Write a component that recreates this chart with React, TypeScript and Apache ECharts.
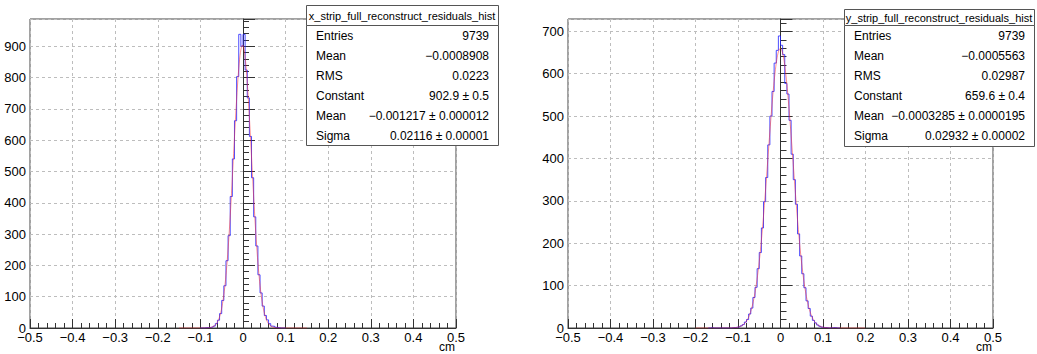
import React, { useEffect, useRef } from 'react';
import * as echarts from 'echarts';

const FONT = '"Liberation Sans", Arial, Helvetica, sans-serif';
const BIN_WIDTH = 0.005;

// left histogram (x residuals), bins from -0.1 in steps of 0.005
const LEFT_BIN_START = -0.1;
const LEFT_COUNTS = [
  0, 0, 1, 1, 2, 3, 6, 14, 25, 46,
  88, 135, 215, 295, 420, 540, 662, 803, 938, 900,
  938, 824, 735, 612, 480, 355, 262, 170, 112, 70,
  40, 26, 14, 6, 5, 2, 1, 0, 0, 0,
];
// right histogram (y residuals), bins from -0.17 in steps of 0.005
const RIGHT_BIN_START = -0.17;
const RIGHT_COUNTS = [
  0, 1, 0, 0, 0, 0, 0, 0, 0, 0,
  0, 1, 1, 2, 3, 5, 8, 14, 20, 33,
  47, 72, 96, 140, 178, 236, 298, 355, 432, 500,
  558, 625, 655, 689, 667, 645, 577, 552, 490, 410,
  350, 292, 222, 170, 128, 95, 64, 46, 28, 18,
  12, 7, 4, 2, 1, 1, 0, 0, 1, 1,
  0, 0,
];

// gaussian fit parameters (constant, mean, sigma) as printed in the stats boxes
const LEFT_FIT = [902.9, -0.001217, 0.02116];
const RIGHT_FIT = [659.6, -0.0003285, 0.02932];

const X_TICK_LABELS = ['\u22120.5', '\u22120.4', '\u22120.3', '\u22120.2', '\u22120.1', '0', '0.1', '0.2', '0.3', '0.4', '0.5'];
const LEFT_Y_TICKS = ['0', '100', '200', '300', '400', '500', '600', '700', '800', '900'];
const RIGHT_Y_TICKS = ['0', '100', '200', '300', '400', '500', '600', '700'];
const LEFT_Y_MAX = 987;
const RIGHT_Y_MAX = 729;

const STAT_NAMES = ['Entries', 'Mean', 'RMS', 'Constant', 'Mean', 'Sigma'];
const LEFT_TITLE = 'x_strip_full_reconstruct_residuals_hist';
const LEFT_STAT_VALUES = ['9739', '\u22120.0008908', '0.0223', '902.9 \u00b1 0.5', '\u22120.001217 \u00b1 0.000012', '0.02116 \u00b1 0.00001'];
const RIGHT_TITLE = 'y_strip_full_reconstruct_residuals_hist';
const RIGHT_STAT_VALUES = ['9739', '\u22120.0005563', '0.02987', '659.6 \u00b1 0.4', '\u22120.0003285 \u00b1 0.0000195', '0.02932 \u00b1 0.00002'];
const X_UNIT = 'cm';

function histLine(start: number, counts: number[]) {
  const pts: number[][] = counts.map((c, i) => [start + i * BIN_WIDTH, c]);
  pts.push([start + counts.length * BIN_WIDTH, 0]);
  return pts;
}

function fitCurve(p: number[], lo: number, hi: number) {
  const pts: number[][] = [];
  const n = Math.round((hi - lo) / 0.001);
  for (let i = 0; i <= n; i++) {
    const x = lo + i * 0.001;
    const d = (x - p[1]) / p[2];
    pts.push([x, p[0] * Math.exp(-0.5 * d * d)]);
  }
  return pts;
}

function xAxisCfg(gridIndex: number) {
  return {
    type: 'value',
    gridIndex,
    min: -0.5,
    max: 0.5,
    interval: 0.1,
    axisLine: { show: true, onZero: false, lineStyle: { color: '#333', width: 1 } },
    axisTick: { show: true, inside: true, length: 9, lineStyle: { color: '#333' } },
    minorTick: { show: true, splitNumber: 5, length: 5, lineStyle: { color: '#333' } },
    splitLine: { show: true, lineStyle: { color: '#bdbdbd', type: [3, 3], width: 1 } },
    axisLabel: {
      margin: 3,
      fontSize: 13,
      color: '#000',
      fontFamily: FONT,
      formatter: (v: number) => X_TICK_LABELS[Math.round((v + 0.5) * 10)] ?? '',
    },
  };
}

function yAxisCfg(gridIndex: number, max: number, labels: string[]) {
  return {
    type: 'value',
    gridIndex,
    min: 0,
    max,
    interval: 100,
    axisLine: { show: true, lineStyle: { color: '#333', width: 1 } },
    axisTick: { show: true, inside: true, length: 12, lineStyle: { color: '#333' } },
    minorTick: { show: true, splitNumber: 5, length: 6, lineStyle: { color: '#333' } },
    splitLine: { show: true, lineStyle: { color: '#bdbdbd', type: [3, 3], width: 1 } },
    axisLabel: {
      margin: 4,
      fontSize: 13,
      color: '#000',
      fontFamily: FONT,
      showMaxLabel: false,
      formatter: (v: number) => labels[Math.round(v / 100)] ?? '',
    },
  };
}

function statsBox(x: number, top: number, sep: number, bottom: number, width: number, title: string, values: string[]) {
  const els: any[] = [];
  els.push({
    type: 'rect', z: 100,
    shape: { x: x + 0.5, y: top + 0.5, width, height: sep - top },
    style: { fill: '#fff', stroke: '#555', lineWidth: 1 },
  });
  els.push({
    type: 'rect', z: 100,
    shape: { x: x + 0.5, y: sep + 0.5, width, height: bottom - sep },
    style: { fill: '#fff', stroke: '#555', lineWidth: 1 },
  });
  els.push({
    type: 'text', z: 101, x: x + width / 2, y: (top + sep) / 2 + 1,
    style: { text: title, fill: '#000', fontSize: 11, fontFamily: FONT, align: 'center', verticalAlign: 'middle' },
  });
  const rowStart = sep + 10.5;
  const rowStep = (bottom - sep) / 6;
  STAT_NAMES.forEach((name, i) => {
    const y = rowStart + i * rowStep;
    els.push({
      type: 'text', z: 101, x: x + 10, y,
      style: { text: name, fill: '#000', fontSize: 12, fontFamily: FONT, align: 'left', verticalAlign: 'middle' },
    });
    els.push({
      type: 'text', z: 101, x: x + width - 9, y,
      style: { text: values[i], fill: '#000', fontSize: 12, fontFamily: FONT, align: 'right', verticalAlign: 'middle' },
    });
  });
  return els;
}

export default function App() {
  const ref = useRef<HTMLDivElement>(null);
  useEffect(() => {
    if (!ref.current) return;
    const chart = echarts.init(ref.current, undefined, { renderer: 'svg' });
    const option: any = {
      animation: false,
      backgroundColor: '#fff',
      grid: [
        { left: 30, top: 19, width: 426, height: 309, show: true, borderColor: '#444', borderWidth: 1, backgroundColor: 'transparent' },
        { left: 568, top: 19, width: 425, height: 309, show: true, borderColor: '#444', borderWidth: 1, backgroundColor: 'transparent' },
      ],
      xAxis: [xAxisCfg(0), xAxisCfg(1)],
      yAxis: [yAxisCfg(0, LEFT_Y_MAX, LEFT_Y_TICKS), yAxisCfg(1, RIGHT_Y_MAX, RIGHT_Y_TICKS)],
      series: [
        {
          type: 'line', xAxisIndex: 0, yAxisIndex: 0, step: 'end', symbol: 'none',
          data: histLine(LEFT_BIN_START, LEFT_COUNTS),
          lineStyle: { color: '#2020ff', width: 1, opacity: 0.8 }, z: 3,
        },
        {
          type: 'line', xAxisIndex: 0, yAxisIndex: 0, symbol: 'none',
          data: fitCurve(LEFT_FIT, -0.15, 0.15),
          lineStyle: { color: '#ff2020', width: 0.9, opacity: 0.55 }, z: 4,
        },
        {
          type: 'line', xAxisIndex: 1, yAxisIndex: 1, step: 'end', symbol: 'none',
          data: histLine(RIGHT_BIN_START, RIGHT_COUNTS),
          lineStyle: { color: '#2020ff', width: 1, opacity: 0.8 }, z: 3,
        },
        {
          type: 'line', xAxisIndex: 1, yAxisIndex: 1, symbol: 'none',
          data: fitCurve(RIGHT_FIT, -0.2, 0.2),
          lineStyle: { color: '#ff2020', width: 0.9, opacity: 0.55 }, z: 4,
        },
      ],
      graphic: [
        ...statsBox(306, 5, 25, 145, 192, LEFT_TITLE, LEFT_STAT_VALUES),
        ...statsBox(844, 9, 25, 146, 190, RIGHT_TITLE, RIGHT_STAT_VALUES),
        {
          type: 'text', z: 101, x: 455, y: 347,
          style: { text: X_UNIT, fill: '#000', fontSize: 12, fontFamily: FONT, align: 'right', verticalAlign: 'middle' },
        },
        {
          type: 'text', z: 101, x: 992, y: 347,
          style: { text: X_UNIT, fill: '#000', fontSize: 12, fontFamily: FONT, align: 'right', verticalAlign: 'middle' },
        },
      ],
    };
    chart.setOption(option);
    return () => chart.dispose();
  }, []);
  return <div ref={ref} style={{ position: 'fixed', left: 0, top: 0, width: 1037, height: 354, background: '#fff' }} />;
}
